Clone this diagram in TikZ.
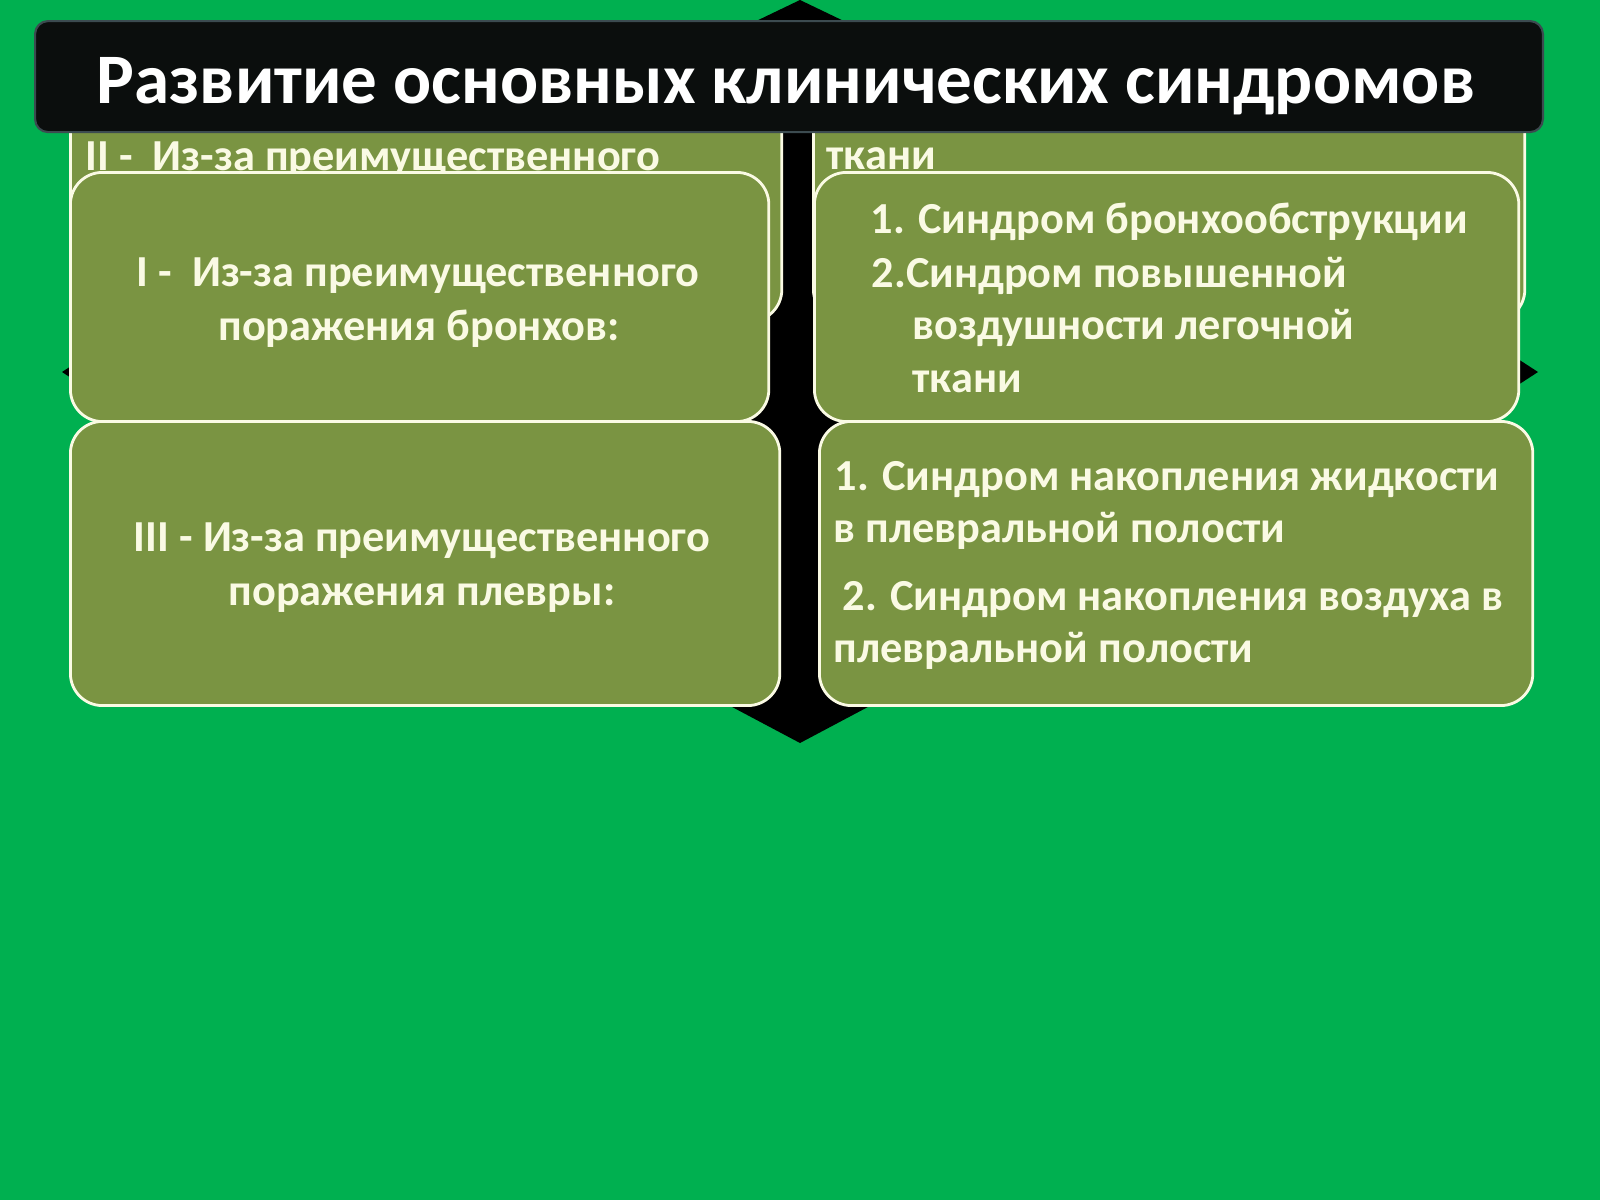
\documentclass[tikz,border=0pt]{standalone}
\usepackage{fontspec}
\setmainfont{Carlito}
\usepackage{tikz}
\usepackage{xcolor}
\definecolor{bggreen}{HTML}{00B050}
\definecolor{boxolive}{HTML}{7A9442}
\definecolor{barblack}{HTML}{0B0E0D}
\definecolor{barrim}{HTML}{3C4B50}
\definecolor{cream}{HTML}{FAFAE4}
\tikzstyle{synbox}=[fill=boxolive,draw=cream,line width=0.8pt,rounded corners=0.32cm,anchor=north west]
\tikzstyle{syntext}=[font=\bfseries\fontsize{12.6}{15}\selectfont,text=cream,inner sep=0pt]

\begin{document}
\begin{tikzpicture}[x=0.01cm,y=-0.01cm]
  \useasboundingbox (0,0) rectangle (1600,1200);
  \fill[bggreen] (0,0) rectangle (1600,1200);

  % cross arrow
  \fill[black] (800,0) -- (900,48) -- (860,48) -- (860,342) -- (1418,342) -- (1418,294)
    -- (1538,372) -- (1418,450) -- (1418,402) -- (860,402) -- (860,691) -- (898,691)
    -- (800,743) -- (702,691) -- (740,691) -- (740,402) -- (182,402) -- (182,450)
    -- (62,372) -- (182,294) -- (182,342) -- (740,342) -- (740,48) -- (700,48) -- cycle;

  % back row
  \node[synbox, minimum width=7.11cm, minimum height=2.6cm] (backL) at (69,60) {};
  \node[synbox, minimum width=7.11cm, minimum height=2.6cm] (backR) at (812,60) {};
  \node[syntext, anchor=base west] (backLtext) at (85,170) {II -\ \ Из-за преимущественного};
  \node[syntext, anchor=base west] (backRtext) at (826,169) {ткани};

  % front row
  \node[synbox, minimum width=6.98cm, minimum height=2.49cm] (boxI) at (69,171) {};
  \node[synbox, minimum width=7.04cm, minimum height=2.49cm] (boxR1) at (813,171) {};
  \node[synbox, minimum width=7.09cm, minimum height=2.84cm] (boxIII) at (69,420) {};
  \node[synbox, minimum width=7.13cm, minimum height=2.84cm] (boxR2) at (818,420) {};

  % I
  \node[syntext, anchor=base] (txtIa) at (418,286) {I -\ \ Из-за преимущественного};
  \node[syntext, anchor=base] (txtIb) at (419,340) {поражения бронхов:};
  % R1
  \node[syntext, anchor=base west] (txtR1a) at (870,233) {1. Синдром бронхообструкции};
  \node[syntext, anchor=base west] (txtR1b) at (871,287) {2.Синдром повышенной};
  \node[syntext, anchor=base west] (txtR1c) at (912,339) {воздушности легочной};
  \node[syntext, anchor=base west] (txtR1d) at (912,392) {ткани};
  % III
  \node[syntext, anchor=base] (txtIIIa) at (422,551) {III - Из-за преимущественного};
  \node[syntext, anchor=base] (txtIIIb) at (422,605) {поражения плевры:};
  % R2
  \node[syntext, anchor=base west] (txtR2a) at (834,490) {1. Синдром накопления жидкости};
  \node[syntext, anchor=base west] (txtR2b) at (833,542) {в плевральной полости};
  \node[syntext, anchor=base west] (txtR2c) at (842,610) {2. Синдром накопления воздуха в};
  \node[syntext, anchor=base west] (txtR2d) at (833,662) {плевральной полости};

  % title
  \node[fill=barblack, draw=barrim, line width=0.6pt, rounded corners=0.13cm,
        minimum width=15.07cm, minimum height=1.11cm, anchor=north west] (title) at (34,20) {};
  \node[font=\bfseries\fontsize{20.2}{24}\selectfont, text=white, inner sep=0pt, anchor=base]
        (titletext) at (786,103) {Развитие основных клинических синдромов};
\end{tikzpicture}
\end{document}
